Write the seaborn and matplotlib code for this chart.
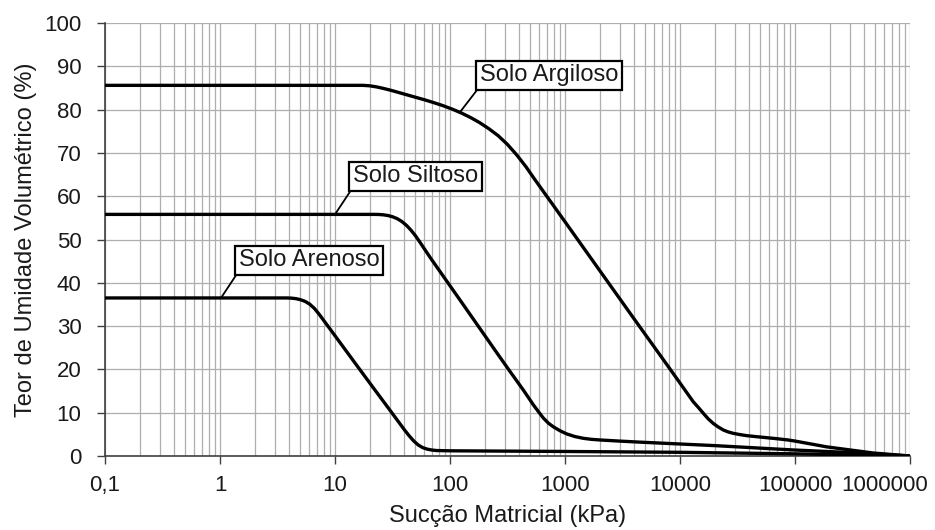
import numpy as np
import pandas as pd
import matplotlib
matplotlib.use("Agg")
import matplotlib.pyplot as plt
import matplotlib.transforms as mtransforms
import seaborn as sns
from matplotlib.ticker import LogLocator, FixedLocator, FixedFormatter, NullFormatter

# ---- data ----
arg_x = [0.1, 17.5, 19.95, 22.9, 26.3, 30.2, 34.7, 41.7, 50.1, 60.3, 72.4, 87.1,
         104.7, 125.9, 151.4, 182, 218.8, 263, 316, 380, 457, 550, 1000, 1995,
         3981, 8185, 13062, 14454, 15959, 17579, 19498, 21528, 23823, 26303,
         29107, 33113, 38019, 46774, 56754, 70795, 87096, 100000, 189671,
         476431, 1000000]
arg_y = [85.6, 85.6, 85.5, 85.25, 84.9, 84.5, 84.05, 83.45, 82.85, 82.25, 81.6,
         80.9, 80.1, 79.2, 78.15, 76.95, 75.55, 73.95, 71.95, 69.55, 66.83, 63.75,
         54.1, 42.9, 31.7, 20.1, 12.5, 11.2, 9.85, 8.6, 7.5, 6.7, 6.0, 5.55,
         5.23, 4.95, 4.7, 4.45, 4.23, 3.97, 3.7, 3.45, 2.1, 0.7, 0.0]

sil_x = [0.1, 21.9, 24.0, 26.3, 28.8, 31.6, 34.7, 38.0, 41.7, 45.7, 50.1, 55.0,
         67, 130, 256, 333, 435, 531, 589, 649, 716, 791, 902, 1035, 1216, 1445,
         1698, 2014, 2904, 4490, 20000, 95700, 300000, 1000000]
sil_y = [55.8, 55.8, 55.78, 55.7, 55.54, 55.26, 54.82, 54.18, 53.3, 52.18, 50.86,
         49.3, 45.9, 35.0, 23.8, 19.5, 15.2, 11.8, 10.2, 8.75, 7.6, 6.75, 5.85,
         5.1, 4.5, 4.08, 3.85, 3.7, 3.46, 3.2, 2.4, 1.4, 0.8, 0.0]

are_x = [0.1, 3.80, 4.17, 4.57, 5.01, 5.50, 6.03, 6.61, 7.24, 7.94, 8.71, 9.55,
         10, 15, 20, 30, 40, 43.9, 48.1, 52.7, 57.8, 63.4, 69.5, 76.2, 100, 1000,
         10000, 100000, 1000000]
are_y = [36.5, 36.5, 36.46, 36.34, 36.1, 35.7, 35.06, 34.1, 32.82, 31.38, 29.94,
         28.5, 27.78, 21.4, 16.9, 10.6, 6.1, 4.74, 3.54, 2.58, 1.94, 1.58, 1.38,
         1.26, 1.2, 1.05, 0.85, 0.5, 0.0]

soil_names = ["Solo Argiloso", "Solo Siltoso", "Solo Arenoso"]
x_ticks = [0.1, 1, 10, 100, 1000, 10000, 100000, 1000000]
x_ticklabels = ["0,1", "1", "10", "100", "1000", "10000", "100000", "1000000"]
y_ticks = [0, 10, 20, 30, 40, 50, 60, 70, 80, 90, 100]

# label boxes: (box centre x, box centre y, curve point x, curve point y)
lab_box_x = [726, 50.1, 5.94]
lab_box_y = [87.9, 64.6, 45.2]
lab_pt_x = [122, 10, 1.02]
lab_pt_y = [79.4, 55.8, 36.5]

df = pd.concat([
    pd.DataFrame({"suc": arg_x, "teor": arg_y, "solo": soil_names[0]}),
    pd.DataFrame({"suc": sil_x, "teor": sil_y, "solo": soil_names[1]}),
    pd.DataFrame({"suc": are_x, "teor": are_y, "solo": soil_names[2]}),
], ignore_index=True)

sns.set_theme(style="white")
plt.rcParams["font.family"] = ["Liberation Sans", "DejaVu Sans"]

fig = plt.figure(figsize=(9.35, 5.3), dpi=100)
ax = fig.add_axes([105/935, 1-456/530, 805/935, 433/530])

sns.lineplot(data=df, x="suc", y="teor", hue="solo", palette=["black"]*3,
             estimator=None, sort=False, legend=False, lw=2.4, ax=ax, zorder=3)
for ln in ax.lines:
    ln.set_solid_joinstyle("round")
    ln.set_solid_capstyle("round")

ax.set_xscale("log")
ax.set_xlim(0.1, 1e6)
ax.set_ylim(0, 100)

ax.xaxis.set_major_locator(FixedLocator(x_ticks))
ax.xaxis.set_major_formatter(FixedFormatter(x_ticklabels))
ax.xaxis.set_minor_locator(LogLocator(base=10, subs=np.arange(2, 10), numticks=100))
ax.xaxis.set_minor_formatter(NullFormatter())
ax.set_yticks(y_ticks)

gcol = "#aeaeae"
ax.grid(which="major", axis="both", color=gcol, lw=0.9, zorder=0)
ax.grid(which="minor", axis="x", color=gcol, lw=0.9, zorder=0)
ax.set_axisbelow(True)

for s in ["top", "right"]:
    ax.spines[s].set_visible(False)
for s in ["left", "bottom"]:
    ax.spines[s].set_color("#404040")
    ax.spines[s].set_linewidth(1.2)

ax.tick_params(axis="both", which="major", direction="out", length=6,
               width=1.0, color="#404040", labelsize=16, labelcolor="#1a1a1a",
               left=True, bottom=True)
ax.tick_params(axis="x", which="major", pad=8)
ax.tick_params(axis="y", which="major", pad=11)
ax.tick_params(axis="x", which="minor", length=0)

ax.set_xlabel("Sucção Matricial (kPa)", fontsize=17, color="#1a1a1a")
ax.set_ylabel("Teor de Umidade Volumétrico (%)", fontsize=17, color="#1a1a1a")
ax.xaxis.set_label_coords(0.5, -(505-456)/433)
ax.xaxis.label.set_va("top")
ax.yaxis.set_label_coords(-(105-37)/805, 0.5)

# last x tick label sits shifted left so it stays inside the figure
fig.canvas.draw()
last = ax.get_xticklabels()[-1]
last.set_ha("right")
last.set_transform(last.get_transform() +
                   mtransforms.ScaledTranslation(18/100, 0, fig.dpi_scale_trans))

for name, bx, by, px, py in zip(soil_names, lab_box_x, lab_box_y, lab_pt_x, lab_pt_y):
    ax.annotate(name, xy=(px, py), xytext=(bx, by), textcoords="data",
                ha="center", va="center", fontsize=17, color="#1a1a1a", zorder=5,
                bbox=dict(boxstyle="square,pad=0.15", fc="white", ec="black", lw=1.6),
                arrowprops=dict(arrowstyle="-", color="black", lw=1.3,
                                relpos=(0, 0), shrinkA=0, shrinkB=0))

fig.savefig("out.png", dpi=100)
